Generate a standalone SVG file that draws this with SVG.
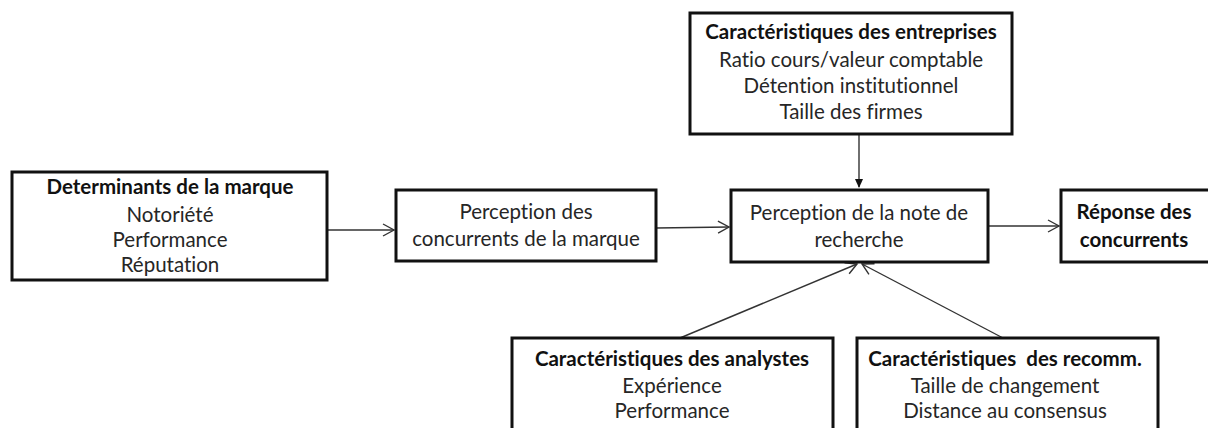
<svg xmlns="http://www.w3.org/2000/svg" width="1208" height="428" viewBox="0 0 1208 428">
<defs>
<style>
.box{fill:#fff;stroke:#111;stroke-width:3}
text{font-family:Lato,"Open Sans","Liberation Sans",sans-serif;font-size:20.5px;fill:#262626;text-anchor:middle;font-variant-ligatures:none;font-feature-settings:"liga" 0}
.b{font-weight:bold;fill:#111}
.c{stroke:#333;stroke-width:1.4;fill:none}
</style>
<marker id="open" markerWidth="14" markerHeight="14" refX="12" refY="7" orient="auto" markerUnits="userSpaceOnUse">
<path d="M1,1 L12,7 L1,13" fill="none" stroke="#333" stroke-width="1.4"/>
</marker>
<marker id="fill" markerWidth="10" markerHeight="10" refX="8" refY="5" orient="auto" markerUnits="userSpaceOnUse">
<path d="M0,1 L9,5 L0,9 Z" fill="#111"/>
</marker>
</defs>
<g id="connectors">
<line class="c" x1="327" y1="230" x2="394" y2="230" marker-end="url(#open)"/>
<line class="c" x1="656" y1="228" x2="729" y2="227" marker-end="url(#open)"/>
<line class="c" x1="859" y1="135" x2="859" y2="187" marker-end="url(#fill)"/>
<line class="c" x1="988" y1="226" x2="1059" y2="226" marker-end="url(#open)"/>
<line class="c" x1="680" y1="338" x2="857" y2="264" marker-end="url(#open)"/>
<line class="c" x1="1003" y1="338" x2="862" y2="264" marker-end="url(#open)"/>
</g>
<g id="determinants">
<rect class="box" x="12" y="172" width="315" height="108"/>
<text class="b" x="170" y="194">Determinants de la marque</text>
<text x="170" y="222">Notoriété</text>
<text x="170" y="247">Performance</text>
<text x="170" y="272">Réputation</text>
</g>
<g id="perception-concurrents">
<rect class="box" x="396" y="190" width="260" height="71"/>
<text x="526" y="219">Perception des</text>
<text x="526" y="246">concurrents de la marque</text>
</g>
<g id="entreprises">
<rect class="box" x="690" y="13" width="322" height="121"/>
<text class="b" x="851" y="39">Caractéristiques des entreprises</text>
<text x="851" y="67">Ratio cours/valeur comptable</text>
<text x="851" y="93">Détention institutionnel</text>
<text x="851" y="119">Taille des firmes</text>
</g>
<g id="perception-note">
<rect class="box" x="731" y="190" width="257" height="72"/>
<text x="859" y="220">Perception de la note de</text>
<text x="859" y="247">recherche</text>
</g>
<g id="reponse">
<rect class="box" x="1061" y="190" width="160" height="72"/>
<text class="b" x="1134" y="219">Réponse des</text>
<text class="b" x="1134" y="247">concurrents</text>
</g>
<g id="analystes">
<rect class="box" x="512" y="338" width="321" height="110"/>
<text class="b" x="672" y="366">Caractéristiques des analystes</text>
<text x="672" y="393">Expérience</text>
<text x="672" y="418">Performance</text>
</g>
<g id="recomm">
<rect class="box" x="857" y="338" width="301" height="110"/>
<text class="b" x="1005" y="366" xml:space="preserve">Caractéristiques  des recomm.</text>
<text x="1005" y="393">Taille de changement</text>
<text x="1005" y="418">Distance au consensus</text>
</g>
</svg>
